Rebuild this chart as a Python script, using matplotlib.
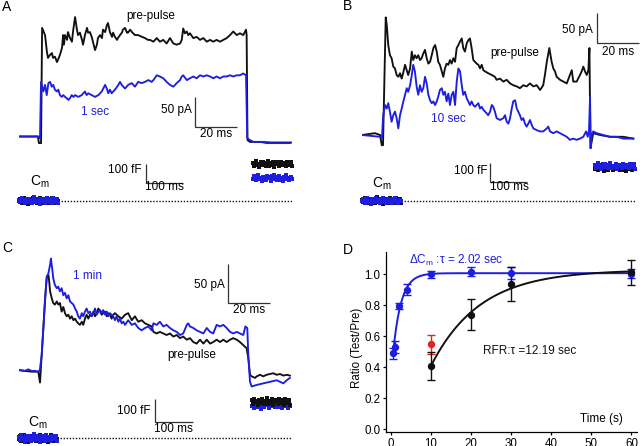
import numpy as np
import matplotlib
matplotlib.use("Agg")
import matplotlib.pyplot as plt

plt.rcParams["font.family"] = ["Liberation Sans", "DejaVu Sans"]
plt.rcParams["mathtext.fontset"] = "custom"
plt.rcParams["mathtext.rm"] = "Liberation Sans"
plt.rcParams["mathtext.it"] = "Liberation Sans:italic"
plt.rcParams["mathtext.bf"] = "Liberation Sans:bold"

BLUE = "#1e1ee0"
BLACK = "#111111"
RED = "#e8201e"
SBAR = "#333333"

# ---------------- Panel A traces (time ms, current pA) ----------------
A_black_t = [0, 9.0, 9.5, 10.5, 11.0, 12.4, 13.3, 13.8, 14.8, 15.7, 16.2, 17.1, 18.1, 18.6, 19.5,
             20.5, 21.0, 21.4, 21.9, 22.9, 23.3, 24.3, 25.2, 25.7, 26.7, 27.6, 28.1, 29.0, 30.0,
             30.5, 31.4, 32.4, 32.9, 33.8, 34.8, 35.2, 36.2, 37.1, 37.6, 38.6, 39.5, 40.0, 41.0,
             41.9, 42.4, 43.3, 44.3, 44.8, 45.7, 46.7, 47.1, 48.1, 49.0, 49.5, 50.5, 51.4, 51.9,
             52.9, 53.8, 55.2, 56.7, 58.6, 60.0, 61.4, 62.4, 64.0, 65.6, 67.1, 68.7, 70.3, 71.9,
             73.5, 75.1, 76.7, 77.5, 78.2, 79.0, 79.9, 80.6, 81.4, 83.0, 84.6, 86.2, 87.8, 89.4,
             91.0, 92.5, 94.1, 95.7, 97.3, 98.9, 100.5, 102.0, 103.7, 105.2, 106.8, 108.1, 108.4,
             108.8, 110.0, 115.0, 120.0, 125.0, 129.5]
A_black_i = [0, 0, -11, -11, 181, 169, 141, 131, 136, 139, 131, 133, 124, 128, 136,
             148, 169, 153, 169, 161, 174, 164, 158, 174, 199, 178, 169, 173, 161,
             153, 169, 181, 173, 174, 164, 158, 144, 153, 164, 169, 164, 178, 174,
             186, 189, 174, 166, 173, 166, 161, 164, 169, 173, 178, 181, 173, 173,
             178, 174, 169, 169, 166, 164, 161, 161, 158, 164, 158, 161, 155, 164,
             155, 153, 155, 161, 180, 172, 175, 169, 172, 164, 166, 161, 164, 158,
             161, 158, 161, 158, 161, 164, 169, 175, 169, 172, 169, 178, 169,
             -6, -9, -9, -10, -10, -10]
A_blue_t = [0, 9.2, 10.0, 10.5, 11.6, 12.4, 13.2, 14.0, 14.8, 15.6, 16.3, 17.1, 18.0, 18.7, 19.5,
            20.3, 21.1, 21.9, 22.7, 23.5, 24.3, 25.1, 25.9, 26.7, 28.2, 29.9, 31.4, 32.2, 33.0,
            34.6, 36.2, 37.8, 39.4, 41.0, 41.8, 42.5, 43.3, 44.1, 45.7, 47.3, 48.1, 48.9, 50.5,
            52.0, 53.7, 55.2, 56.8, 58.4, 60.0, 61.6, 63.2, 64.0, 65.6, 67.1, 68.7, 70.3, 71.9,
            73.5, 75.1, 76.7, 77.5, 78.2, 79.9, 81.4, 83.0, 84.6, 86.2, 87.8, 89.4, 91.0, 92.5,
            94.1, 95.7, 97.3, 98.9, 100.5, 102.0, 103.7, 105.2, 106.8, 108.1, 108.7, 110.0,
            111.6, 114.8, 118.0, 121.1, 124.3, 129.0]
A_blue_i = [0, 0, -3, 91, 75, 86, 69, 89, 91, 83, 86, 78, 75, 78, 69,
            66, 69, 66, 64, 61, 64, 69, 66, 69, 66, 69, 75, 69, 72,
            69, 66, 69, 75, 86, 80, 72, 78, 72, 78, 86, 91, 86, 80,
            86, 89, 83, 91, 89, 91, 94, 91, 94, 102, 100, 97, 91, 86,
            83, 89, 94, 100, 102, 94, 97, 100, 97, 102, 100, 102, 100, 97,
            100, 97, 100, 100, 102, 100, 102, 102, 105, 102, -3, -6,
            -9, -9, -11, -11, -11, -11]

# ---------------- Panel B traces ----------------
B_black_t = [0, 6.2, 8.6, 9.4, 10.0, 11.3, 11.8, 12.5, 13.3, 14.1, 14.9, 15.7, 16.5, 17.3, 18.1,
             18.9, 19.7, 20.5, 21.3, 22.0, 22.9, 23.7, 24.4, 25.2, 26.0, 26.8, 27.6, 28.4, 29.2,
             30.0, 30.8, 31.6, 32.4, 33.2, 34.0, 34.8, 35.6, 36.3, 37.1, 38.0, 38.7, 39.5, 40.3,
             41.1, 41.9, 42.7, 43.5, 44.3, 45.1, 45.9, 46.7, 47.5, 48.2, 49.0, 49.9, 50.6, 51.4,
             52.2, 53.0, 53.8, 54.6, 55.4, 56.2, 57.0, 57.8, 58.6, 60.1, 61.8, 63.3, 64.1, 65.7,
             67.3, 68.9, 70.5, 72.0, 73.7, 75.2, 76.8, 78.4, 80.0, 81.6, 83.2, 84.8, 86.3, 87.1,
             88.0, 89.2, 90.3, 91.1, 91.9, 92.7, 94.3, 95.9, 97.5, 99.0, 99.9, 100.6, 102.2,
             103.8, 104.6, 105.4, 106.2, 107.0, 107.8, 108.3, 108.6, 108.8, 110.1, 113.3, 118.1,
             124.4, 129.2]
B_black_i = [0, 3, 0, -17, -17, 196, 183, 150, 133, 128, 114, 111, 100, 97, 103,
             94, 105, 117, 108, 100, 111, 139, 125, 133, 128, 133, 125, 128, 136,
             142, 128, 119, 122, 133, 145, 150, 139, 122, 117, 106, 97, 111, 119,
             117, 125, 119, 128, 122, 145, 150, 156, 161, 145, 139, 153, 158, 161,
             145, 125, 122, 119, 117, 111, 117, 108, 106, 103, 100, 97, 92, 94,
             89, 92, 86, 83, 81, 78, 83, 81, 86, 81, 83, 75, 83, 100,
             122, 145, 122, 111, 106, 97, 92, 89, 86, 100, 108, 89, 89,
             100, 106, 114, 106, 100, 108, 145, 42, -22, 3, 0, -3,
             -3, -6]
B_blue_t = [0, 8.6, 9.5, 10.1, 11.0, 11.8, 12.5, 13.3, 14.1, 14.9, 15.7, 16.5, 17.3, 18.1, 18.9,
            19.7, 20.5, 21.3, 22.0, 22.9, 23.7, 24.4, 25.2, 26.0, 26.8, 27.6, 28.4, 29.2, 30.0,
            30.8, 31.6, 32.4, 33.2, 34.0, 34.8, 35.6, 36.3, 37.1, 38.0, 38.7, 39.5, 40.3, 41.1,
            41.9, 42.7, 43.5, 44.3, 45.1, 45.9, 46.7, 47.5, 48.2, 49.0, 49.9, 50.6, 51.4, 52.2,
            53.0, 53.8, 54.6, 55.4, 56.2, 57.0, 57.8, 58.6, 59.4, 60.1, 61.0, 61.8, 62.5, 63.3,
            64.1, 65.7, 67.3, 68.1, 68.9, 69.7, 70.5, 71.3, 72.0, 72.9, 73.7, 74.4, 75.2, 76.0,
            76.8, 77.6, 78.4, 79.2, 80.0, 80.8, 81.6, 83.2, 84.8, 86.3, 88.0, 88.7, 89.5, 91.1,
            92.7, 94.3, 95.9, 97.5, 99.0, 100.6, 102.2, 103.8, 105.4, 106.7, 107.5, 108.1, 108.6,
            108.9, 109.4, 110.1, 111.8, 114.9, 118.1, 121.3, 124.4, 127.6, 129.2]
B_blue_i = [0, -3, -5, 33, 50, 44, 53, 39, 22, 33, 39, 28, 11, 33, 44,
            56, 67, 78, 72, 83, 100, 117, 106, 81, 67, 83, 72, 78, 97,
            86, 67, 58, 53, 56, 50, 56, 64, 75, 78, 67, 72, 56, 69,
            50, 67, 72, 50, 89, 111, 106, 83, 67, 72, 61, 56, 50, 56,
            50, 47, 50, 53, 44, 47, 42, 39, 36, 33, 39, 50, 47, 39,
            28, 25, 28, 33, 22, 19, 28, 44, 56, 58, 44, 39, 33, 25,
            28, 19, 14, 19, 25, 17, 11, 8, 6, 6, 11, 14, 6, 3,
            6, 3, 0, -3, -8, -6, -8, -6, -3, 6, -3, 8, 64,
            -22, 0, 6, 3, 0, -3, -3, -6, -6, -6]

# ---------------- Panel C traces ----------------
C_black_t = [0, 2.9, 6.0, 9.2, 10.0, 10.8, 11.6, 12.4, 13.2, 14.0, 14.3, 14.8, 15.6, 16.3, 17.1,
             18.0, 18.7, 19.5, 20.3, 21.1, 21.9, 22.7, 23.5, 24.3, 25.1, 25.9, 26.7, 27.5, 28.2,
             29.0, 29.9, 30.6, 31.4, 32.2, 33.0, 33.8, 34.6, 35.4, 36.2, 37.0, 37.8, 38.6, 39.4,
             40.1, 41.0, 41.8, 42.5, 43.3, 44.1, 44.9, 45.7, 47.3, 48.9, 50.5, 52.0, 53.7, 55.2,
             56.8, 58.4, 60.0, 61.6, 63.2, 64.0, 65.6, 67.1, 68.7, 70.3, 71.9, 73.5, 75.1, 76.7,
             78.2, 79.9, 81.4, 83.0, 84.6, 86.2, 87.8, 89.4, 91.0, 92.5, 94.1, 95.7, 97.3, 98.9,
             100.5, 102.0, 103.7, 105.2, 106.8, 108.4, 109.2, 110.0, 110.8, 112.4, 113.2, 114.8,
             116.3, 117.9, 119.5, 121.1, 122.7, 124.3, 125.9, 127.5, 129.0]
C_black_i = [2, 1, 0, 0, -14, 21, 56, 94, 120, 124, 118, 103, 94, 88, 86,
             90, 86, 88, 77, 83, 75, 71, 73, 68, 71, 66, 68, 64, 62,
             60, 64, 60, 68, 73, 68, 73, 71, 77, 71, 75, 81, 77, 73,
             75, 77, 71, 75, 73, 68, 73, 75, 71, 68, 73, 75, 66, 71,
             64, 66, 62, 60, 58, 51, 49, 51, 49, 47, 49, 45, 47, 43,
             45, 41, 43, 38, 36, 41, 36, 41, 36, 38, 41, 38, 41, 38,
             41, 43, 41, 38, 34, 30, 17, -4, -6, -8, -6, -4,
             -6, -4, -3, -2, -4, -3, -5, -4, -5]
C_blue_t = [0, 2.9, 4.4, 6.0, 7.6, 9.2, 9.9, 10.8, 11.6, 12.4, 13.2, 14.0, 14.8, 15.2, 15.9,
            16.3, 17.1, 18.0, 18.7, 19.5, 20.3, 21.1, 21.9, 22.7, 23.5, 24.3, 25.1, 25.9, 26.7,
            27.5, 28.2, 29.0, 29.9, 30.6, 31.4, 32.2, 33.0, 33.8, 34.6, 35.4, 36.2, 37.0, 37.8,
            38.6, 39.4, 40.1, 41.0, 41.8, 42.5, 43.3, 44.1, 44.9, 45.7, 46.5, 47.3, 48.1, 48.9,
            49.7, 50.5, 52.0, 53.7, 55.2, 56.8, 58.4, 60.0, 61.6, 63.2, 64.0, 65.6, 67.1, 68.7,
            70.3, 71.9, 73.5, 75.1, 76.7, 78.2, 79.9, 80.6, 81.4, 83.0, 84.6, 86.2, 87.8, 89.4,
            91.0, 92.5, 94.1, 95.7, 97.3, 98.9, 100.5, 102.0, 103.7, 105.2, 106.8, 107.8, 108.7,
            109.2, 110.0, 110.8, 113.2, 116.3, 119.5, 122.7, 124.3, 125.9, 127.5, 129.0]
C_blue_i = [2, 1, 3, 1, 1, 0, 2, 21, 56, 90, 122, 126, 137, 145, 130,
            120, 111, 107, 109, 103, 107, 98, 101, 94, 98, 90, 88, 86, 81,
            77, 71, 68, 75, 71, 77, 81, 75, 77, 71, 75, 81, 73, 77,
            79, 75, 79, 73, 77, 71, 75, 73, 71, 66, 71, 64, 68, 62,
            64, 60, 66, 60, 62, 56, 53, 56, 58, 53, 62, 60, 64, 58,
            60, 56, 53, 51, 47, 49, 60, 62, 58, 56, 53, 51, 49, 56,
            51, 49, 60, 58, 60, 56, 51, 49, 51, 49, 47, 58, 56,
            21, -13, -19, -17, -15, -13, -11, -13, -15, -11, -8]

# ---------------- Membrane capacitance (fF) ----------------
cm_noise_1 = [6, -9, 14, -3, 2, -14, 9, -6, 11, -1, -11, 4, 17, -8, 3, -4,
              10, -15, 5, 8, -2, -10, 13, 0, -7, 7, -12, 12, -5, 1, 9, -13]
cm_noise_2 = [-4, 10, -12, 5, 15, -7, 1, -16, 8, 3, -9, 12, -2, 6, -13, 9,
              -5, 14, -1, -10, 4, 11, -8, 2, -14, 7, 16, -6, 0, -11, 5, -3]
A_cm_pre = 0
A_cm_black_post = 193
A_cm_blue_post = 119
B_cm_pre = 0
B_cm_black_post = 172
B_cm_blue_post = 182
C_cm_pre = 0
C_cm_black_post = 159
C_cm_blue_post = 145

# ---------------- Panel D recovery ----------------
cm_time = [0.5, 1, 2, 4, 10, 20, 30, 60]
cm_ratio = [0.49, 0.53, 0.795, 0.90, 1.00, 1.017, 1.01, 1.005]
cm_err = [0.035, 0.04, 0.02, 0.035, 0.02, 0.03, 0.04, 0.03]
rfr_time = [10, 20, 30, 60]
rfr_ratio = [0.41, 0.74, 0.94, 1.013]
rfr_err = [0.09, 0.10, 0.11, 0.083]
red_time = [10]
red_ratio = [0.547]
red_err = [0.06]
tau_cm = 2.02
tau_rfr = 12.19
cm_plateau, cm_amp, cm_t0 = 1.008, 0.52, 0.5
rfr_plateau, rfr_amp, rfr_t0 = 1.03, 0.62, 10.0
x_ticks = [0, 10, 20, 30, 40, 50, 60]
y_ticks = [0.0, 0.2, 0.4, 0.6, 0.8, 1.0]

# ---------------- Figure ----------------
W, H = 640.0, 446.0
fig = plt.figure(figsize=(6.4, 4.46), dpi=100)


def rect(x0, y0, x1, y1):
    return [x0 / W, 1 - y1 / H, (x1 - x0) / W, (y1 - y0) / H]


def bare_axes(r, xlim, ylim):
    ax = fig.add_axes(r)
    ax.set_xlim(*xlim)
    ax.set_ylim(*ylim)
    ax.set_axis_off()
    ax.patch.set_visible(False)
    return ax


def scalebar(ax, x, y, dx, dy):
    ax.plot([x, x, x + dx], [y + dy, y, y], color=SBAR, lw=0.9, clip_on=False,
            solid_joinstyle="miter", solid_capstyle="butt")


def cloud(ax, t0, t1, level, noise, color):
    t = np.linspace(t0, t1, len(noise))
    v = level + np.asarray(noise, dtype=float)
    ax.plot(t, v, color=color, lw=1.3, marker="s", ms=2.3, mew=0, clip_on=False)


FS = 8.5
TLW = 1.35

# Panel A
axA = bare_axes(rect(19, 10, 292, 150), (0, 130), (-22.5, 210.8))
axA.plot(A_black_t, A_black_i, color=BLACK, lw=TLW, solid_joinstyle="round")
axA.plot(A_blue_t, A_blue_i, color=BLUE, lw=TLW, solid_joinstyle="round")
axA.text(62.8, 201, "pre-pulse", ha="center", va="center", fontsize=FS)
axA.text(36.2, 40, "1 sec", ha="center", va="center", fontsize=FS, color=BLUE)
scalebar(axA, 83.8, 16.3, 20, 50)
axA.text(82.2, 44, "50 pA", ha="right", va="center", fontsize=FS)
axA.text(93.7, 4.5, "20 ms", ha="center", va="center", fontsize=FS)

cmA = bare_axes(rect(19, 150, 292, 212), (0, 730), (-59.4, 266.7))
cmA.plot([104, 730], [0, 0], color=BLACK, lw=1.0, ls=(0, (1, 1.2)))
cloud(cmA, 0, 104, A_cm_pre, cm_noise_2, BLACK)
cloud(cmA, 0, 104, A_cm_pre, cm_noise_1, BLUE)
cloud(cmA, 626, 730, A_cm_black_post, cm_noise_1, BLACK)
cloud(cmA, 626, 730, A_cm_blue_post, cm_noise_2, BLUE)
scalebar(cmA, 339.6, 95, 100, 100)
cmA.text(328, 161, "100 fF", ha="right", va="center", fontsize=FS)
cmA.text(389.6, 72, "100 ms", ha="center", va="center", fontsize=FS)
cmA.text(29.4, 100, r"C$_\mathrm{m}$", ha="left", va="center", fontsize=10)

# Panel B
axB = bare_axes(rect(362, 5, 635, 150), (0, 130), (-25, 216.7))
axB.plot(B_black_t, B_black_i, color=BLACK, lw=TLW, solid_joinstyle="round")
axB.plot(B_blue_t, B_blue_i, color=BLUE, lw=TLW, solid_joinstyle="round")
axB.text(72.6, 137, "pre-pulse", ha="center", va="center", fontsize=FS)
axB.text(41.1, 26, "10 sec", ha="center", va="center", fontsize=FS, color=BLUE)
scalebar(axB, 112, 152.8, 20, 50)
axB.text(110.1, 175, "50 pA", ha="right", va="center", fontsize=FS)
axB.text(121.9, 138, "20 ms", ha="center", va="center", fontsize=FS)

cmB = bare_axes(rect(362, 150, 635, 212), (0, 730), (-59.4, 266.7))
cmB.plot([104, 730], [0, 0], color=BLACK, lw=1.0, ls=(0, (1, 1.2)))
cloud(cmB, 0, 104, B_cm_pre, cm_noise_1, BLACK)
cloud(cmB, 0, 104, B_cm_pre, cm_noise_2, BLUE)
cloud(cmB, 623, 730, B_cm_black_post, cm_noise_2, BLACK)
cloud(cmB, 623, 730, B_cm_blue_post, cm_noise_1, BLUE)
scalebar(cmB, 342, 97, 100, 100)
cmB.text(336, 158, "100 fF", ha="right", va="center", fontsize=FS)
cmB.text(393, 70, "100 ms", ha="center", va="center", fontsize=FS)
cmB.text(26, 91, r"C$_\mathrm{m}$", ha="left", va="center", fontsize=10)

# Panel C
axC = bare_axes(rect(19, 245, 292, 395), (0, 130), (-29.9, 162.4))
axC.plot(C_black_t, C_black_i, color=BLACK, lw=TLW, solid_joinstyle="round")
axC.plot(C_blue_t, C_blue_i, color=BLUE, lw=TLW, solid_joinstyle="round")
axC.text(25.7, 123, "1 min", ha="left", va="center", fontsize=FS, color=BLUE)
axC.text(82.1, 21, "pre-pulse", ha="center", va="center", fontsize=FS)
scalebar(axC, 99.7, 88, 20, 50)
axC.text(98.1, 111, "50 pA", ha="right", va="center", fontsize=FS)
axC.text(109.5, 78.5, "20 ms", ha="center", va="center", fontsize=FS)

cmC = bare_axes(rect(19, 385, 292, 446), (0, 730), (-33.5, 231.9))
cmC.plot([101, 727], [0, 0], color=BLACK, lw=1.0, ls=(0, (1, 1.2)))
cloud(cmC, 0, 101, C_cm_pre, cm_noise_2, BLACK)
cloud(cmC, 0, 101, C_cm_pre, cm_noise_1, BLUE)
cloud(cmC, 623, 725, C_cm_blue_post, cm_noise_2, BLUE)
cloud(cmC, 623, 725, C_cm_black_post, cm_noise_1, BLACK)
scalebar(cmC, 364.4, 72, 100, 100)
cmC.text(352, 120, "100 fF", ha="right", va="center", fontsize=FS)
cmC.text(412.6, 40, "100 ms", ha="center", va="center", fontsize=FS)
cmC.text(25, 68, r"C$_\mathrm{m}$", ha="left", va="center", fontsize=10)

# Panel D
axD = fig.add_axes(rect(386, 251.7, 636.7, 432.3))
axD.set_xlim(-1.25, 61.3)
axD.set_ylim(-0.021, 1.147)
for s in ("top", "right"):
    axD.spines[s].set_visible(False)
for s in ("left", "bottom"):
    axD.spines[s].set_linewidth(0.9)
axD.set_xticks(x_ticks)
axD.set_yticks(y_ticks)
axD.set_yticklabels([f"{v:.1f}" for v in y_ticks])
axD.tick_params(axis="both", direction="out", length=2.5, width=0.9, labelsize=8.3, pad=1.5)

tf_cm = np.linspace(cm_t0, 60, 300)
axD.plot(tf_cm, cm_plateau - cm_amp * np.exp(-(tf_cm - cm_t0) / tau_cm), color=BLUE, lw=1.4)
tf_rfr = np.linspace(rfr_t0, 60, 300)
axD.plot(tf_rfr, rfr_plateau - rfr_amp * np.exp(-(tf_rfr - rfr_t0) / tau_rfr), color=BLACK, lw=1.4)
axD.errorbar(cm_time, cm_ratio, yerr=cm_err, fmt="o", color=BLUE, ms=4.3, capsize=2.8,
             elinewidth=1.0, capthick=1.0)
axD.errorbar(red_time, red_ratio, yerr=red_err, fmt="o", color=RED, ms=4.3, capsize=2.8,
             elinewidth=1.0, capthick=1.0)
axD.errorbar(rfr_time, rfr_ratio, yerr=rfr_err, fmt="o", color=BLACK, ms=4.3, capsize=2.8,
             elinewidth=1.0, capthick=1.0)
axD.text(4.56, 1.092, r"ΔC$_\mathrm{m}$ :τ = 2.02 sec", color=BLUE, fontsize=FS,
         ha="left", va="center")
axD.text(22.9, 0.504, "RFR:τ =12.19 sec", color=BLACK, fontsize=FS, ha="left", va="center")
axD.text(47.1, 0.065, "Time (s)", fontsize=FS, ha="left", va="center")
axD.text(-0.117, 0.47, "Ratio (Test/Pre)", rotation=90, ha="center", va="center",
         fontsize=8.3, transform=axD.transAxes)

# Panel letters
for lbl, px, py in (("A", 2, 7), ("B", 343, 6), ("C", 2, 248), ("D", 343, 250)):
    fig.text(px / W, 1 - py / H, lbl, fontsize=10, ha="left", va="center")

fig.savefig("out.png", dpi=100)
